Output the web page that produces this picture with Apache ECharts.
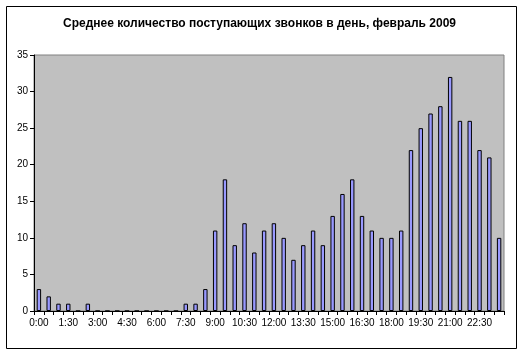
<!DOCTYPE html>
<html>
<head>
<meta charset="utf-8">
<script src="https://cdn.jsdelivr.net/npm/echarts@6/dist/echarts.min.js"></script>
<style>
  html, body { margin: 0; padding: 0; background: #fff; }
  #chart { width: 519px; height: 351px; }
</style>
</head>
<body>
<div id="chart"></div>
<script>
// время (каждые полчаса)
var times = [
  "0:00", "0:30", "1:00", "1:30", "2:00", "2:30", "3:00", "3:30",
  "4:00", "4:30", "5:00", "5:30", "6:00", "6:30", "7:00", "7:30",
  "8:00", "8:30", "9:00", "9:30", "10:00", "10:30", "11:00", "11:30",
  "12:00", "12:30", "13:00", "13:30", "14:00", "14:30", "15:00", "15:30",
  "16:00", "16:30", "17:00", "17:30", "18:00", "18:30", "19:00", "19:30",
  "20:00", "20:30", "21:00", "21:30", "22:00", "22:30", "23:00", "23:30"
];
// среднее кол-во звонков
var calls = [
  3, 2, 1, 1, 0, 1, 0, 0,
  0, 0, 0, 0, 0, 0, 0, 1,
  1, 3, 11, 18, 9, 12, 8, 11,
  12, 10, 7, 9, 11, 9, 13, 16,
  18, 13, 11, 10, 10, 11, 22, 25,
  27, 28, 32, 26, 26, 22, 21, 10
];
var yTicks = [0, 5, 10, 15, 20, 25, 30, 35];

var myChart = echarts.init(document.getElementById("chart"));

var option = {
  animation: false,
  title: {
    text: "Среднее количество поступающих звонков в день, февраль 2009",
    left: "center",
    top: 13,
    textStyle: { fontFamily: "Arial", fontSize: 12, fontWeight: "bold", color: "#000" }
  },
  graphic: [
    {
      type: "rect",
      left: 4,
      top: 4,
      shape: { width: 510, height: 342 },
      style: { fill: "none", stroke: "#000", lineWidth: 1 },
      silent: true
    }
  ],
  grid: {
    left: 34,
    top: 55,
    right: 15,
    bottom: 40,
    show: true,
    backgroundColor: "#C0C0C0",
    borderColor: "#808080",
    borderWidth: 1
  },
  xAxis: {
    type: "category",
    data: times,
    axisLine: { lineStyle: { color: "#000", width: 1 } },
    axisTick: { show: true, interval: 0, length: 4, lineStyle: { color: "#000" } },
    axisLabel: {
      interval: 2,
      color: "#000",
      fontFamily: "Arial",
      fontSize: 10,
      margin: 7
    }
  },
  yAxis: {
    type: "value",
    min: yTicks[0],
    max: yTicks[yTicks.length - 1],
    interval: 5,
    splitLine: { show: false },
    axisLine: { show: true, lineStyle: { color: "#000", width: 1 } },
    axisTick: { show: true, length: 4, lineStyle: { color: "#000" } },
    axisLabel: { color: "#000", fontFamily: "Arial", fontSize: 10, margin: 6 }
  },
  series: [
    {
      type: "bar",
      data: calls,
      barWidth: "45%",
      itemStyle: { color: "#9999FF", borderColor: "#000", borderWidth: 1 }
    }
  ]
};
myChart.setOption(option);
</script>
</body>
</html>
